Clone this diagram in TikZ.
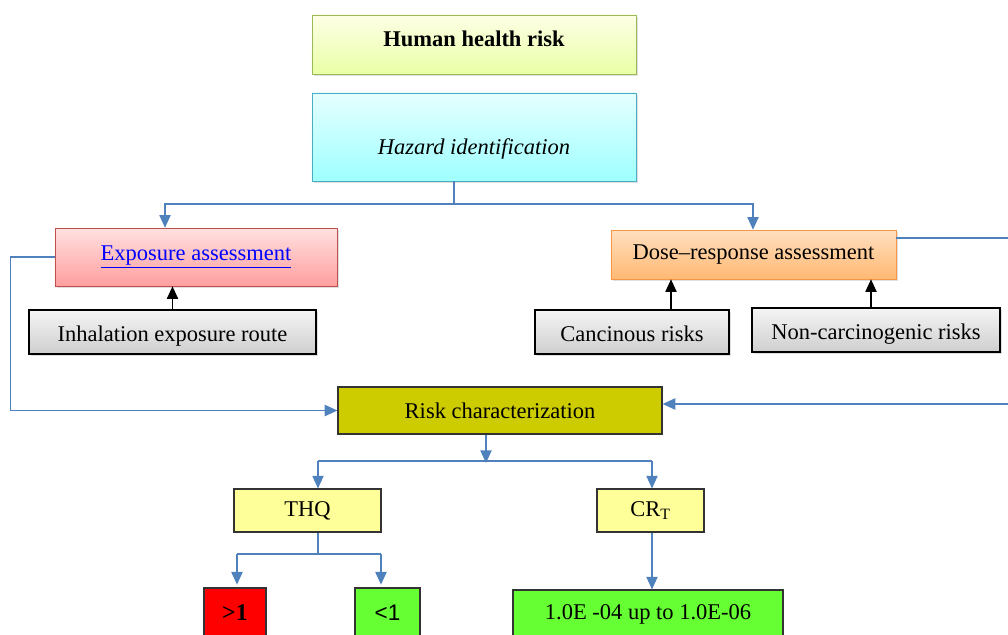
\documentclass[tikz,border=0pt]{standalone}
\usepackage{fontspec}
\setmainfont{Liberation Serif}
\newfontfamily\arialfont{Liberation Sans}
\usetikzlibrary{arrows.meta,shadows}

\definecolor{flowblue}{HTML}{4F81BD}
\definecolor{hhrline}{HTML}{9BBB59}
\definecolor{hazline}{HTML}{4BACC6}
\definecolor{expline}{HTML}{C0504D}
\definecolor{doseline}{HTML}{F79646}
\definecolor{riskfill}{HTML}{CCCC00}
\definecolor{paleyellow}{HTML}{FFFF99}
\definecolor{brightgreen}{HTML}{66FF33}

% text set with its baseline the given distance below the node centre
\newcommand{\basedown}[2]{\raisebox{-#1}[0pt][0pt]{#2}}

\tikzset{
  box/.style={draw, inner sep=0pt, align=center, font=\fontsize{16}{19}\selectfont,
    drop shadow={shadow xshift=1.2pt, shadow yshift=-1.2pt, opacity=0.25}},
  greybox/.style={box, draw=black, line width=0.9pt, top color=gray!8, bottom color=gray!38},
  plainbox/.style={draw=black!80, inner sep=0pt, align=center, line width=0.8pt,
    font=\fontsize{16}{19}\selectfont},
  flow/.style={draw=flowblue, line width=1pt},
  flowto/.style={flow, -{Triangle[length=9pt,width=8pt]}},
  upto/.style={draw=black, line width=1pt, -{Triangle[length=9pt,width=8pt]}}
}

\begin{document}
\begin{tikzpicture}[x=0.025cm, y=-0.025cm]
\useasboundingbox (0,0) rectangle (1008,634);

% boxes
\node (hhr) [box, draw=hhrline, top color=green!8!yellow!10, bottom color=green!25!yellow!35,
  minimum width=8.1cm, minimum height=1.475cm] at (474,44.5) {\basedown{1.4pt}{\textbf{Human health risk}}};
\node (hazard) [box, draw=hazline, top color=cyan!10, bottom color=cyan!38,
  minimum width=8.1cm, minimum height=2.2cm] at (474,137) {\basedown{12.4pt}{\textit{Hazard identification}}};
\node (expo) [box, draw=expline, top color=red!12, bottom color=red!38,
  minimum width=7.05cm, minimum height=1.45cm] at (196,257) {\textcolor{blue}{\underline{Exposure assessment}}};
\node (dose) [box, draw=doseline, top color=orange!25, bottom color=orange!55,
  minimum width=7.125cm, minimum height=1.225cm] at (753.5,254.5) {Dose--response assessment};
\node (inhal) [greybox, minimum width=7.175cm, minimum height=1.1cm] at (172.5,332) {\basedown{6.7pt}{Inhalation exposure route}};
\node (canc) [greybox, minimum width=4.85cm, minimum height=1.1cm] at (632,332) {\basedown{6.7pt}{Cancinous risks}};
\node (noncarc) [greybox, minimum width=6.2cm, minimum height=1.1cm] at (876,330) {\basedown{6.4pt}{Non-carcinogenic risks}};
\node (risk) [plainbox, fill=riskfill, minimum width=8.1cm, minimum height=1.175cm] at (500,410.5) {Risk characterization};
\node (thq) [plainbox, fill=paleyellow, minimum width=3.675cm, minimum height=1.075cm] at (307.5,510.5) {THQ};
\node (crt) [plainbox, fill=paleyellow, minimum width=2.675cm, minimum height=1.075cm] at (650.5,510.5) {CR\textsubscript{T}};
\node (gt) [plainbox, fill=red, minimum width=1.55cm, minimum height=1.25cm, font=\bfseries\fontsize{17}{20}\selectfont] at (235,613) {>1};
\node (lt) [plainbox, fill=brightgreen, minimum width=1.625cm, minimum height=1.25cm, font=\arialfont\fontsize{16}{19}\selectfont] at (387.5,613) {<1};
\node (range) [plainbox, fill=brightgreen, minimum width=6.75cm, minimum height=1.2cm] at (648,614) {1.0E -04 up to 1.0E-06};

% split below hazard identification
\coordinate (hz) at (454,204);
\coordinate (ea) at (165,204);
\coordinate (da) at (753,204);
\draw[flow] (hazard.south -| hz) -- (hz);
\draw[flowto] (hz) -- (ea) -- (ea |- expo.north);
\draw[flowto] (hz) -- (da) -- (da |- dose.north);

% inputs
\coordinate (ca) at (671,0);
\coordinate (nc) at (871,0);
\draw[upto] (inhal.north) -- (inhal.north |- expo.south);
\draw[upto] (canc.north -| ca) -- (dose.south -| ca);
\draw[upto] (noncarc.north -| nc) -- (dose.south -| nc);

% feedback to risk characterization
\draw[flowto] (expo.west) -- ++(-44,0) |- (risk.west);
\coordinate (rf) at (1013,238);
\coordinate (rg) at (1013,404);
\draw[flowto] (dose.east |- rf) -- (rf) -- (rg) -- (rg -| risk.east);

% risk characterization outcomes
\coordinate (rs) at (486,463);
\coordinate (tq) at (318,461);
\coordinate (cr) at (652,461);
\draw[flowto] (risk.south -| rs) -- (rs);
\draw[flow] (tq) -- (cr);
\draw[flowto] (tq) -- (tq |- thq.north);
\draw[flowto] (cr) -- (cr |- crt.north);

\coordinate (tb) at (318,554);
\coordinate (gl) at (237,554);
\coordinate (lr) at (381,554);
\draw[flow] (thq.south -| tb) -- (tb);
\draw[flow] (gl) -- (lr);
\draw[flowto, shorten >=2pt] (gl) -- (gl |- gt.north);
\draw[flowto, shorten >=2pt] (lr) -- (lr |- lt.north);
\draw[flowto] (crt.south -| cr) -- (cr |- range.north);
\end{tikzpicture}
\end{document}
